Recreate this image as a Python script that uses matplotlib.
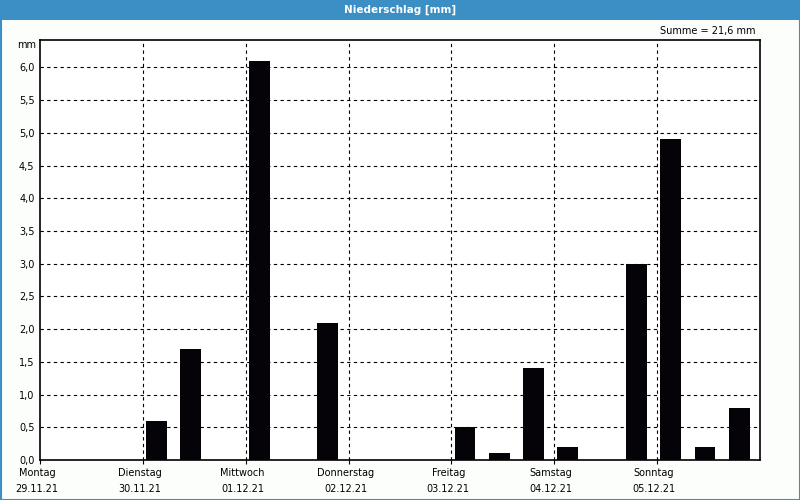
import matplotlib
matplotlib.use('Agg')
import matplotlib.pyplot as plt
from matplotlib.patches import Rectangle
import numpy as np

# Niederschlag in 8-Stunden-Intervallen (3 pro Tag)
days = ['Montag', 'Dienstag', 'Mittwoch', 'Donnerstag', 'Freitag', 'Samstag', 'Sonntag']
dates = ['29.11.21', '30.11.21', '01.12.21', '02.12.21', '03.12.21', '04.12.21', '05.12.21']
precip = [0.0, 0.0, 0.0,
          0.6, 1.7, 0.0,
          6.1, 0.0, 2.1,
          0.0, 0.0, 0.0,
          0.5, 0.1, 1.4,
          0.2, 0.0, 3.0,
          4.9, 0.2, 0.8]
yticks = np.arange(0, 6.01, 0.5)

blue = '#3b8fc4'
plt.rcParams['font.family'] = ['DejaVu Sans']

fig = plt.figure(figsize=(8, 5), dpi=100, facecolor='#fcfefc')
ax = fig.add_axes([40/800, 40/500, 720/800, 420/500])
ax.set_facecolor('white')

x = np.arange(len(precip))
ax.bar(x + 0.09, precip, width=0.61, align='edge', color='#050308', zorder=3)

ax.set_xlim(0, len(precip))
ax.set_ylim(0, 6.42)

# grid
for v in yticks[1:]:
    ax.axhline(v, color='black', lw=0.8, ls=(0, (3, 3)), zorder=1)
for d in range(1, len(days)):
    ax.axvline(d * 3, color='black', lw=0.8, ls=(0, (3, 3)), zorder=1)

ax.set_yticks(yticks)
ax.set_yticklabels([f'{v:.1f}'.replace('.', ',') for v in yticks], fontsize=7)
ax.tick_params(axis='y', length=0, pad=4)
ax.set_xticks([d * 3 for d in range(len(days))])
ax.set_xticklabels([])
ax.tick_params(axis='x', length=3, direction='out')
for s in ax.spines.values():
    s.set_linewidth(1.2)

# offsets in points (1 px = 0.72 pt at 100 dpi)
for i, (dn, dt) in enumerate(zip(days, dates)):
    ax.annotate(dn, (i * 3, 0), xycoords='data', xytext=(-2.2, -9.4), textcoords='offset points',
                ha='center', va='center', fontsize=7)
    ax.annotate(dt, (i * 3, 0), xycoords='data', xytext=(-2.2, -21), textcoords='offset points',
                ha='center', va='center', fontsize=7)

fig.text(36/800, 1 - 45/500, 'mm', ha='right', va='center', fontsize=7)
total = f'{sum(precip):.1f}'.replace('.', ',')
fig.text(755/800, 1 - 31/500, f'Summe = {total} mm', ha='right', va='center', fontsize=7)

# title bar + border
fig.patches.append(Rectangle((0, 1 - 20/500), 1, 20/500, transform=fig.transFigure,
                             facecolor=blue, edgecolor='none', zorder=0))
fig.patches.append(Rectangle((0.5/800, 0.5/500), 799/800, 499/500, transform=fig.transFigure,
                             facecolor='none', edgecolor=blue, lw=1.5, zorder=5))
fig.text(0.5, 1 - 10/500, 'Niederschlag [mm]', ha='center', va='center', fontsize=7.5,
         color='white', fontweight='bold')

fig.savefig('out.png', dpi=100, facecolor=fig.get_facecolor())
